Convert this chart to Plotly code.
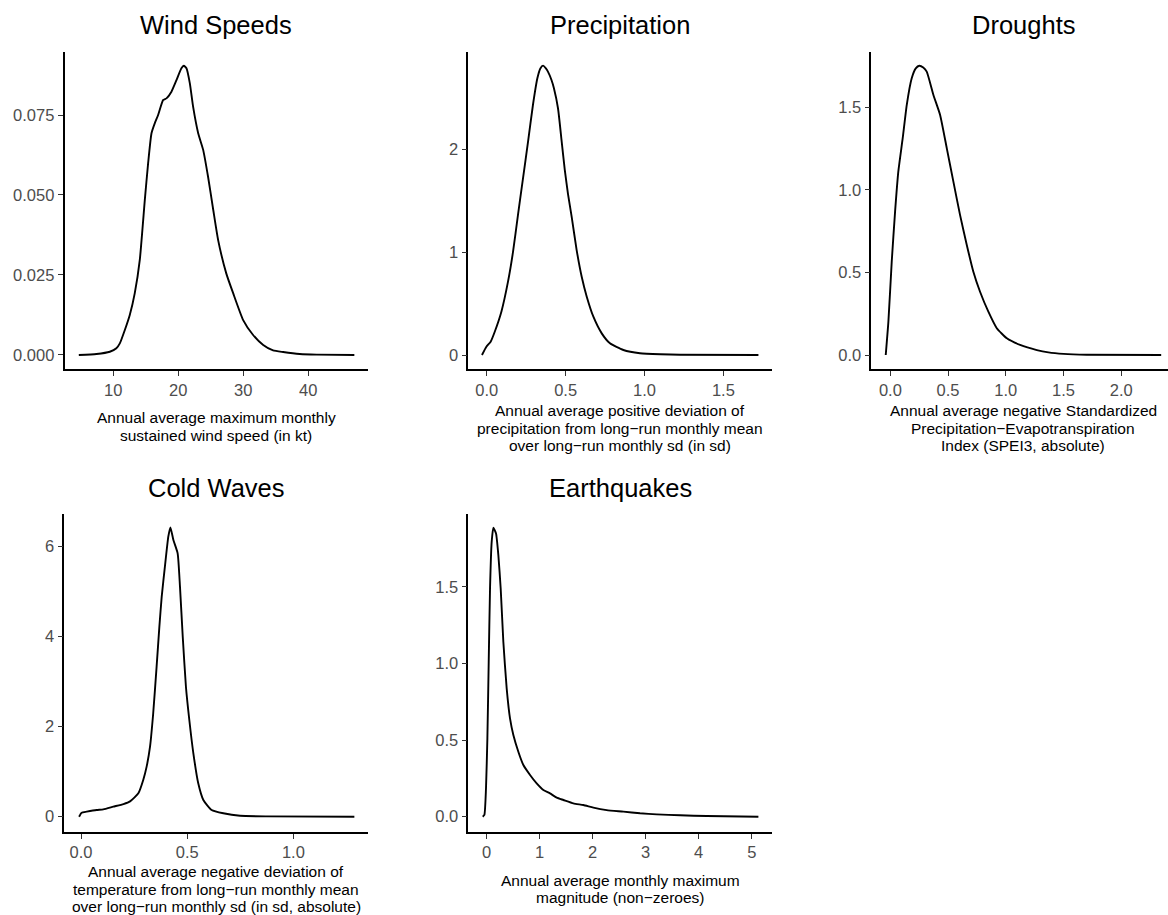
import plotly.graph_objects as go

# ---------------- data ----------------
wind_x = [4.72, 7.44, 9.49, 10.5, 11.03, 11.8, 12.56, 13.33, 14.1, 14.87, 15.38, 15.9, 16.4, 16.92,
          17.7, 18.2, 18.97, 19.74, 20.5, 20.87, 21.28, 21.8, 22.3, 23.08, 23.85, 24.6, 25.4, 26.15,
          27.4, 28.46, 30.0, 31.5, 33.08, 34.6, 36.15, 38.7, 41.3, 47.1]
wind_y = [0.0, 0.0003, 0.001, 0.0021, 0.0036, 0.0078, 0.0125, 0.0193, 0.0297, 0.0484, 0.0599, 0.0693,
          0.0724, 0.075, 0.0797, 0.0802, 0.0823, 0.0859, 0.0896, 0.0904, 0.0896, 0.0849, 0.0776, 0.0693,
          0.0641, 0.0557, 0.0453, 0.0359, 0.0255, 0.0193, 0.0109, 0.0063, 0.0031, 0.0014, 0.0009,
          0.0003, 0.0001, 0.0]

prec_x = [-0.030, -0.002, 0.025, 0.051, 0.093, 0.135, 0.167, 0.198, 0.230, 0.262, 0.293, 0.321, 0.340,
          0.357, 0.375, 0.388, 0.410, 0.426, 0.452, 0.475, 0.495, 0.515, 0.539, 0.570, 0.602, 0.634,
          0.676, 0.729, 0.781, 0.866, 0.971, 1.100, 1.225, 1.722]
prec_y = [0.0, 0.081, 0.13, 0.227, 0.422, 0.714, 1.006, 1.363, 1.72, 2.077, 2.434, 2.694, 2.79,
          2.817, 2.79, 2.759, 2.68, 2.597, 2.40, 2.08, 1.80, 1.57, 1.34, 1.022, 0.762, 0.568,
          0.373, 0.211, 0.114, 0.049, 0.017, 0.007, 0.003, 0.0]

drought_x = [-0.04, -0.017, 0.012, 0.041, 0.069, 0.107, 0.142, 0.185, 0.22, 0.251, 0.285, 0.315,
             0.373, 0.431, 0.489, 0.546, 0.604, 0.662, 0.719, 0.777, 0.849, 0.922, 1.009, 1.124,
             1.269, 1.369, 1.5, 1.7, 2.346]
drought_y = [0.0, 0.202, 0.565, 0.868, 1.11, 1.312, 1.513, 1.675, 1.735, 1.751, 1.74, 1.715, 1.574,
             1.453, 1.251, 1.049, 0.847, 0.666, 0.504, 0.383, 0.262, 0.162, 0.101, 0.061, 0.03,
             0.016, 0.007, 0.002, 0.0]

cold_x = [-0.009, 0.003, 0.027, 0.074, 0.105, 0.152, 0.2, 0.231, 0.27, 0.293, 0.309, 0.325, 0.340,
          0.356, 0.369, 0.380, 0.395, 0.411, 0.421, 0.435, 0.455, 0.466, 0.479, 0.494, 0.51, 0.529,
          0.552, 0.576, 0.615, 0.67, 0.749, 0.874, 1.287]
cold_y = [0.0, 0.089, 0.111, 0.148, 0.163, 0.222, 0.28, 0.34, 0.519, 0.814, 1.109, 1.552, 2.293,
          3.326, 4.213, 4.878, 5.543, 6.208, 6.416, 6.135, 5.84, 5.1, 3.99, 2.882, 2.144, 1.405,
          0.74, 0.37, 0.148, 0.075, 0.02, 0.007, 0.0]

quake_x = [-0.075, -0.044, -0.013, 0.013, 0.038, 0.063, 0.094, 0.126, 0.176, 0.22, 0.264, 0.314,
           0.377, 0.44, 0.503, 0.597, 0.692, 0.818, 0.943, 1.069, 1.195, 1.321, 1.447, 1.635, 1.824,
           2.013, 2.264, 2.579, 2.893, 3.208, 3.648, 4.151, 5.126]
quake_y = [0.0, 0.011, 0.185, 0.511, 1.011, 1.489, 1.793, 1.885, 1.848, 1.707, 1.489, 1.141, 0.837,
           0.641, 0.533, 0.424, 0.337, 0.272, 0.217, 0.174, 0.152, 0.124, 0.109, 0.087, 0.076, 0.059,
           0.043, 0.033, 0.022, 0.015, 0.009, 0.004, 0.0]

titles = ["Wind Speeds", "Precipitation", "Droughts", "Cold Waves", "Earthquakes"]
xlabels = [
    ["Annual average maximum monthly", "sustained wind speed (in kt)"],
    ["Annual average positive deviation of", "precipitation from long\u2212run monthly mean",
     "over long\u2212run monthly sd (in sd)"],
    ["Annual average negative Standardized", "Precipitation\u2212Evapotranspiration",
     "Index (SPEI3, absolute)"],
    ["Annual average negative deviation of", "temperature from long\u2212run monthly mean",
     "over long\u2212run monthly sd (in sd, absolute)"],
    ["Annual average monthly maximum", "magnitude (non\u2212zeroes)"],
]

x_tickvals = [[10, 20, 30, 40], [0, 0.5, 1.0, 1.5], [0, 0.5, 1.0, 1.5, 2.0], [0, 0.5, 1.0], [0, 1, 2, 3, 4, 5]]
x_ticktext = [["10", "20", "30", "40"], ["0.0", "0.5", "1.0", "1.5"], ["0.0", "0.5", "1.0", "1.5", "2.0"],
              ["0.0", "0.5", "1.0"], ["0", "1", "2", "3", "4", "5"]]
y_tickvals = [[0, 0.025, 0.05, 0.075], [0, 1, 2], [0, 0.5, 1.0, 1.5], [0, 2, 4, 6], [0, 0.5, 1.0, 1.5]]
y_ticktext = [["0.000", "0.025", "0.050", "0.075"], ["0", "1", "2"], ["0.0", "0.5", "1.0", "1.5"],
              ["0", "2", "4", "6"], ["0.0", "0.5", "1.0", "1.5"]]

series = [(wind_x, wind_y), (prec_x, prec_y), (drought_x, drought_y), (cold_x, cold_y), (quake_x, quake_y)]

# ---------------- layout geometry ----------------
W, H = 1168, 915
px_x = [(64.5, 368.0), (468.3, 771.7), (871.3, 1168.0), (64.3, 368.3), (468.3, 771.7)]
px_y = [(52, 369), (52, 369), (52, 369), (514.3, 831.7), (514.3, 831.7)]
x_ranges = [[2.52, 49.2], [-0.1166, 1.806], [-0.165, 2.405], [-0.0786, 1.3526], [-0.347, 5.377]]
y_ranges = [[-0.0044, 0.0947], [-0.136, 2.95], [-0.0847, 1.834], [-0.333, 6.705], [-0.098, 1.973]]
title_y = [25, 25, 25, 488, 488]
label_y = [[417, 435], [410, 428, 445.5], [410, 428, 445.5], [871.7, 889.3, 906.7], [880, 897.7]]

FONT = "Liberation Sans, Arial, Helvetica, sans-serif"

fig = go.Figure()
annotations = []
layout_axes = {}
for i, (xs, ys) in enumerate(series):
    n = i + 1
    xa = "x" if n == 1 else f"x{n}"
    ya = "y" if n == 1 else f"y{n}"
    fig.add_trace(go.Scatter(x=xs, y=ys, mode="lines", xaxis=xa, yaxis=ya,
                             line=dict(color="black", width=1.9, shape="spline", smoothing=0.5),
                             hoverinfo="skip", showlegend=False))
    x0, x1 = px_x[i]
    y0, y1 = px_y[i]
    common = dict(showline=True, linecolor="black", linewidth=1.6, showgrid=False, zeroline=False,
                  ticks="outside", ticklen=5, tickwidth=1.3, tickcolor="#333333",
                  tickfont=dict(family=FONT, size=16.5, color="#4D4D4D"), fixedrange=True)
    layout_axes["xaxis" if n == 1 else f"xaxis{n}"] = dict(
        domain=[x0 / W, min(x1 / W, 1.0)], anchor=ya, range=x_ranges[i],
        tickmode="array", tickvals=x_tickvals[i], ticktext=x_ticktext[i], **common)
    layout_axes["yaxis" if n == 1 else f"yaxis{n}"] = dict(
        domain=[1 - y1 / H, 1 - y0 / H], anchor=xa, range=y_ranges[i],
        tickmode="array", tickvals=y_tickvals[i], ticktext=y_ticktext[i], **common)
    cx = (x0 + (x0 + 303.5)) / 2 / W
    annotations.append(dict(text=titles[i], x=cx, y=1 - title_y[i] / H, xref="paper", yref="paper",
                            xanchor="center", yanchor="middle", showarrow=False,
                            font=dict(family=FONT, size=25.5, color="black")))
    for line, ly in zip(xlabels[i], label_y[i]):
        annotations.append(dict(text=line, x=cx, y=1 - ly / H, xref="paper", yref="paper",
                                xanchor="center", yanchor="middle", showarrow=False,
                                font=dict(family=FONT, size=15.5, color="black")))

fig.update_layout(width=W, height=H, margin=dict(l=0, r=0, t=0, b=0),
                  paper_bgcolor="white", plot_bgcolor="white",
                  annotations=annotations, **layout_axes)

fig.write_html("out.html", config={"displayModeBar": False})
